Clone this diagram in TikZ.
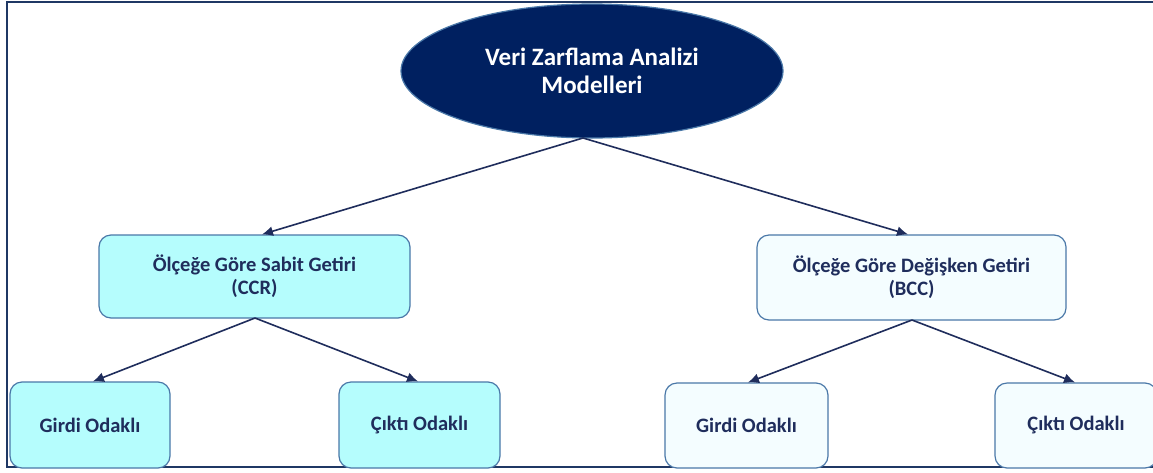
\documentclass[tikz,border=0pt]{standalone}
\usepackage{fontspec}
\setmainfont{Carlito}
\usetikzlibrary{shapes.geometric,arrows.meta}
\definecolor{navy}{HTML}{002060}
\definecolor{txt}{HTML}{1F2D5C}
\definecolor{edge}{HTML}{4A78A8}
\definecolor{cyanfill}{HTML}{B5FDFD}
\definecolor{palefill}{HTML}{F4FDFF}
\definecolor{framec}{HTML}{1F3864}
\tikzset{
  x=1pt,y=-1pt,
  topell/.style={ellipse,draw=edge,fill=navy,line width=1.2pt,minimum width=382pt,minimum height=134pt,text=white,font=\bfseries\fontsize{25}{28}\selectfont,align=center,inner sep=0pt},
  box/.style={rounded corners=12pt,draw=edge,line width=1.2pt,text=txt,font=\bfseries\fontsize{20.5}{23}\selectfont,align=center,inner sep=0pt},
  cyanbox/.style={box,fill=cyanfill},
  palebox/.style={box,fill=palefill},
  conn/.style={draw=txt,line width=1.6pt,-{Latex[length=11pt,width=10pt]}},
}
\begin{document}
\begin{tikzpicture}
\useasboundingbox (0,0) rectangle (1153,472);
\fill[white] (0,0) rectangle (1153,472);
\draw[framec,line width=2pt] (1153,2) -- (7,2) -- (7,467) -- (1153,467);
\node[topell] (root) at (592,71) {Veri Zarflama Analizi\\Modelleri};
\node[cyanbox,minimum width=311pt,minimum height=83pt] (ccr) at (254.5,276.5) {Ölçeğe Göre Sabit Getiri\\(CCR)};
\node[palebox,minimum width=309pt,minimum height=85pt] (bcc) at (911.5,277.5) {Ölçeğe Göre Değişken Getiri\\(BCC)};
\node[cyanbox,minimum width=160pt,minimum height=86pt] (c1) at (90,425) {Girdi Odaklı};
\node[cyanbox,minimum width=161pt,minimum height=86pt] (c2) at (419.5,425) {Çıktı Odaklı};
\node[palebox,minimum width=163pt,minimum height=85pt] (b1) at (746.5,425.5) {Girdi Odaklı};
\node[palebox,minimum width=162pt,minimum height=85pt] (b2) at (1076,425.5) {Çıktı Odaklı};
\coordinate (rs) at (583,138);
\draw[conn] (rs) -- (ccr.north -| 262,0);
\draw[conn] (rs) -- (bcc.north -| 908,0);
\coordinate (cs) at (255,318);
\draw[conn] (cs) -- (c1.north -| 93,0);
\draw[conn] (cs) -- (c2.north -| 418,0);
\coordinate (bs) at (912,320);
\draw[conn] (bs) -- (b1.north -| 748,0);
\draw[conn] (bs) -- (b2.north -| 1075,0);
\end{tikzpicture}
\end{document}
